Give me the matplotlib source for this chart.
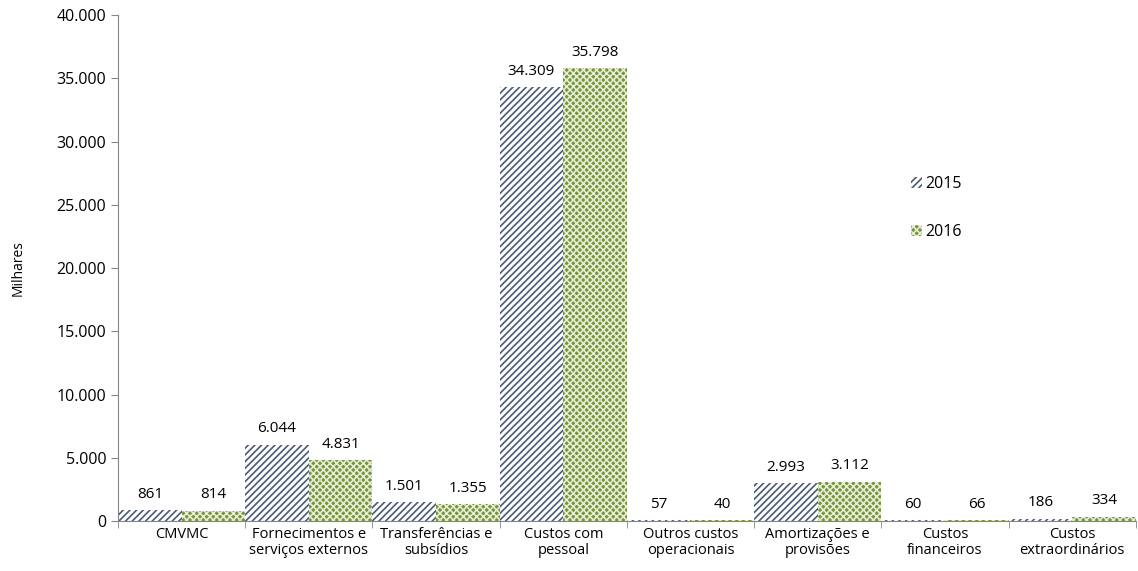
import numpy as np
import matplotlib.pyplot as plt
from matplotlib.ticker import FuncFormatter

categories = ['CMVMC', 'Fornecimentos e\nserviços externos', 'Transferências e\nsubsídios',
              'Custos com\npessoal', 'Outros custos\noperacionais', 'Amortizações e\nprovisões',
              'Custos\nfinanceiros', 'Custos\nextraordinários']
values_2015 = [861, 6044, 1501, 34309, 57, 2993, 60, 186]
values_2016 = [814, 4831, 1355, 35798, 40, 3112, 66, 334]

plt.rcParams['font.family'] = ['Open Sans', 'DejaVu Sans']
plt.rcParams['hatch.linewidth'] = 1.2

def fmt(v):
    return f'{v:,.0f}'.replace(',', '.')

fig = plt.figure(figsize=(11.38, 5.71), dpi=100)
ax = fig.add_axes([0.1037, 0.0876, 0.8943, 0.886])

x = np.arange(len(categories))
b1 = ax.bar(x - 0.25, values_2015, 0.5, color='white', edgecolor='#4A5A75',
            hatch='/////', linewidth=0, label='2015')
b2 = ax.bar(x + 0.25, values_2016, 0.5, color='#77933C', edgecolor='#E4EDD2',
            hatch='xxxxx', linewidth=0, label='2016')

for bars, vals in ((b1, values_2015), (b2, values_2016)):
    for rect, v in zip(bars, vals):
        ax.annotate(fmt(v), (rect.get_x() + rect.get_width() / 2, rect.get_height()),
                    xytext=(0, 6), textcoords='offset points', ha='center', va='bottom',
                    fontsize=11)

ax.set_xlim(-0.5, len(categories) - 0.5)
ax.set_ylim(0, 40000)
ax.set_yticks(np.arange(0, 40001, 5000))
ax.yaxis.set_major_formatter(FuncFormatter(lambda v, p: fmt(v)))
ax.set_xticks(x)
ax.set_xticklabels(categories, fontsize=10.5, linespacing=1.15)
ax.set_xticks(np.arange(-0.5, len(categories), 1), minor=True)
ax.tick_params(axis='x', which='major', length=0, pad=4)
ax.tick_params(axis='x', which='minor', length=5, color='#868686')
ax.tick_params(axis='y', length=5, color='#868686', labelsize=11.5)

for s in ['top', 'right']:
    ax.spines[s].set_visible(False)
for s in ['left', 'bottom']:
    ax.spines[s].set_color('#868686')

ax.set_ylabel('Milhares', fontsize=10, labelpad=22)

ax.legend(loc='upper left', bbox_to_anchor=(0.765, 0.71), frameon=False, fontsize=11.5,
          handlelength=0.7, handleheight=0.7, handletextpad=0.2, labelspacing=2.0)

fig.savefig('out.png', dpi=100)
